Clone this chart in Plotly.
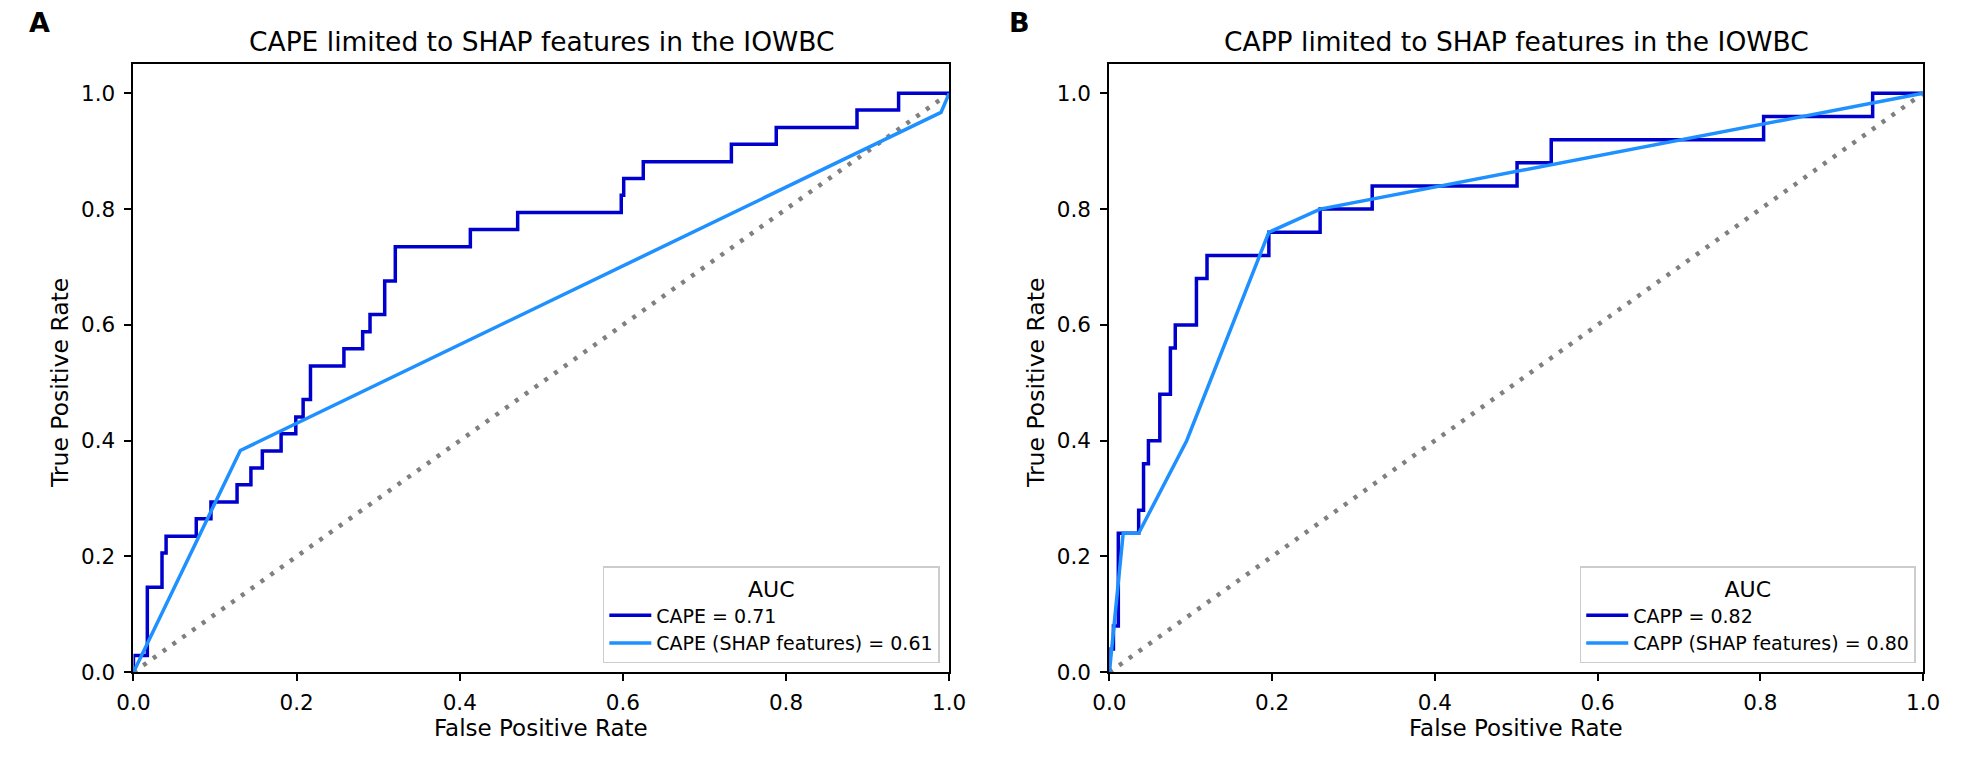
import plotly.graph_objects as go

# ---------------- data ----------------
cape_fpr = [0.0, 0.0, 0.017, 0.035, 0.040, 0.077, 0.095, 0.127, 0.144, 0.158, 0.181, 0.199, 0.208,
            0.217, 0.258, 0.281, 0.290, 0.308, 0.321, 0.413, 0.471, 0.598, 0.601, 0.625, 0.733,
            0.788, 0.887, 0.938, 1.0]
cape_tpr = [0.0, 0.029, 0.147, 0.206, 0.235, 0.265, 0.294, 0.324, 0.353, 0.382, 0.412, 0.441, 0.471,
            0.529, 0.559, 0.588, 0.618, 0.676, 0.735, 0.765, 0.794, 0.824, 0.853, 0.882, 0.912,
            0.941, 0.971, 1.0, 1.0]
cape_shap_fpr = [0.0, 0.131, 0.990, 1.0]
cape_shap_tpr = [0.0, 0.383, 0.967, 1.0]

capp_fpr = [0.0, 0.0, 0.005, 0.011, 0.036, 0.042, 0.048, 0.062, 0.075, 0.081, 0.107, 0.120,
            0.196, 0.259, 0.323, 0.501, 0.543, 0.804, 0.938, 1.0]
capp_tpr = [0.0, 0.04, 0.08, 0.24, 0.28, 0.36, 0.40, 0.48, 0.56, 0.60, 0.68, 0.72,
            0.76, 0.80, 0.84, 0.88, 0.92, 0.96, 1.0, 1.0]
capp_shap_fpr = [0.0, 0.017, 0.036, 0.095, 0.196, 0.259, 1.0]
capp_shap_tpr = [0.0, 0.24, 0.24, 0.40, 0.76, 0.80, 1.0]

chance = [0.0, 1.0]

titles = ["CAPE limited to SHAP features in the IOWBC", "CAPP limited to SHAP features in the IOWBC"]
panel_letters = ["A", "B"]
names_left = ["CAPE = 0.71", "CAPE (SHAP features) = 0.61"]
names_right = ["CAPP = 0.82", "CAPP (SHAP features) = 0.80"]
tick_vals = [0.0, 0.2, 0.4, 0.6, 0.8, 1.0]
tick_text = ["0.0", "0.2", "0.4", "0.6", "0.8", "1.0"]

# ---------------- style ----------------
W, H = 1975, 757
FONT = "DejaVu Sans"
DARK = "#0000CD"
LIGHT = "#1E90FF"
GRAY = "#808080"

def px_x(p):
    return p / W

def px_y(p):
    return 1 - p / H

x1_dom = [px_x(118.5), px_x(948.5)]
x2_dom = [px_x(1111.5), px_x(1939.5)]
y_dom = [px_y(684), px_y(65.5)]

fig = go.Figure()

# left panel
fig.add_trace(go.Scatter(x=chance, y=chance, mode="lines", showlegend=False, hoverinfo="skip",
                         line=dict(color=GRAY, width=4.5, dash="4px,8px"), xaxis="x", yaxis="y"))
fig.add_trace(go.Scatter(x=cape_fpr, y=cape_tpr, mode="lines", name=names_left[0],
                         line=dict(color=DARK, width=3.5, shape="hv"), xaxis="x", yaxis="y",
                         legend="legend"))
fig.add_trace(go.Scatter(x=cape_shap_fpr, y=cape_shap_tpr, mode="lines", name=names_left[1],
                         line=dict(color=LIGHT, width=3.5), xaxis="x", yaxis="y", legend="legend"))

# right panel
fig.add_trace(go.Scatter(x=chance, y=chance, mode="lines", showlegend=False, hoverinfo="skip",
                         line=dict(color=GRAY, width=4.5, dash="4px,8px"), xaxis="x2", yaxis="y2"))
fig.add_trace(go.Scatter(x=capp_fpr, y=capp_tpr, mode="lines", name=names_right[0],
                         line=dict(color=DARK, width=3.5, shape="hv"), xaxis="x2", yaxis="y2",
                         legend="legend2"))
fig.add_trace(go.Scatter(x=capp_shap_fpr, y=capp_shap_tpr, mode="lines", name=names_right[1],
                         line=dict(color=LIGHT, width=3.5), xaxis="x2", yaxis="y2", legend="legend2"))

axis_common = dict(showgrid=False, zeroline=False, showline=True, mirror=True,
                   linecolor="black", linewidth=2, ticks="outside", ticklen=7, tickwidth=1.5,
                   tickcolor="black", tickvals=tick_vals, ticktext=tick_text,
                   tickfont=dict(family=FONT, size=21.5, color="black"))

fig.update_layout(
    width=W, height=H,
    margin=dict(l=0, r=0, t=0, b=0),
    paper_bgcolor="white", plot_bgcolor="white",
    font=dict(family=FONT, color="black"),
    xaxis=dict(domain=x1_dom, range=[0, 1], anchor="y", ticklabelstandoff=3, **axis_common),
    yaxis=dict(domain=y_dom, range=[0, 1.05], anchor="x", ticklabelstandoff=5, **axis_common),
    xaxis2=dict(domain=x2_dom, range=[0, 1], anchor="y2", ticklabelstandoff=3, **axis_common),
    yaxis2=dict(domain=y_dom, range=[0, 1.05], anchor="x2", ticklabelstandoff=5, **axis_common),
)

legend_common = dict(
    xanchor="right", yanchor="bottom", y=px_y(675),
    bgcolor="rgba(255,255,255,0.85)", bordercolor="#cccccc", borderwidth=1.5,
    font=dict(family=FONT, size=19, color="black"),
    title=dict(text="AUC", side="top center", font=dict(family=FONT, size=22, color="black")),
    itemwidth=42, tracegroupgap=0,
)
fig.update_layout(
    legend=dict(x=px_x(939), **legend_common),
    legend2=dict(x=px_x(1932), **legend_common),
)

annotations = []
centers = [(118.5 + 948.5) / 2, (1111.5 + 1939.5) / 2]
ylabel_x = [44, 44 + (1111.5 - 118.5)]
letter_x = [23, 1020]
for i in range(2):
    annotations.append(dict(text=titles[i], x=px_x(centers[i]), y=px_y(42), xref="paper", yref="paper",
                            xanchor="center", yanchor="middle", showarrow=False,
                            font=dict(family=FONT, size=26.5, color="black")))
    annotations.append(dict(text="<b>" + panel_letters[i] + "</b>", x=px_x(letter_x[i]), y=px_y(22.5),
                            xref="paper", yref="paper", xanchor="center", yanchor="middle",
                            showarrow=False, font=dict(family=FONT, size=27, color="black")))
    annotations.append(dict(text="False Positive Rate", x=px_x(centers[i]), y=px_y(741), xref="paper",
                            yref="paper", xanchor="center", yanchor="middle", showarrow=False,
                            font=dict(family=FONT, size=23, color="black")))
    annotations.append(dict(text="True Positive Rate", x=px_x(ylabel_x[i]), y=px_y((684 + 95) / 2),
                            xref="paper", yref="paper", xanchor="center", yanchor="middle",
                            textangle=-90, showarrow=False,
                            font=dict(family=FONT, size=23.5, color="black")))
fig.update_layout(annotations=annotations)

fig.write_html("out.html")
